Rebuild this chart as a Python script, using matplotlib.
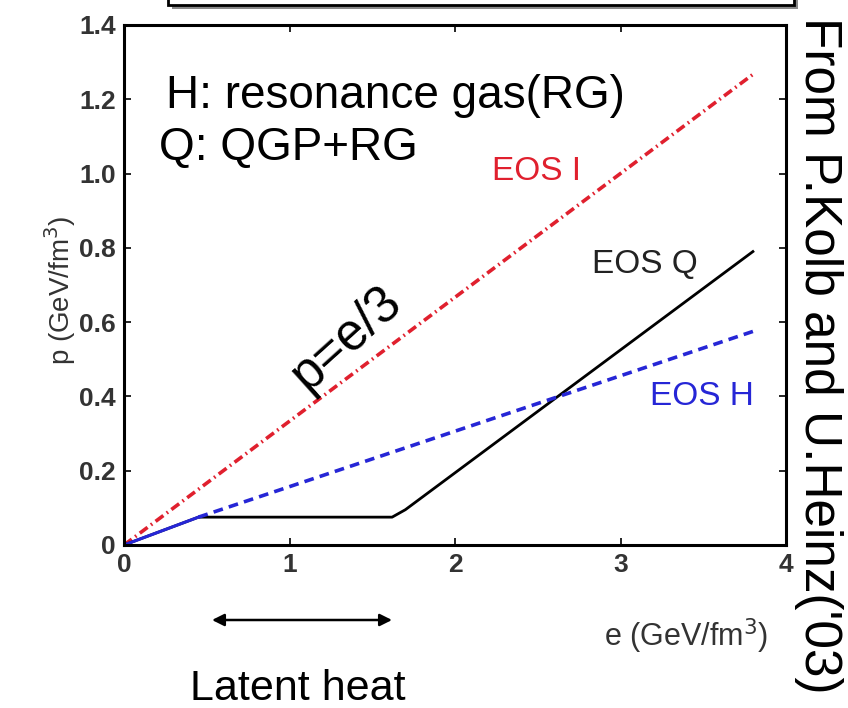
import matplotlib
matplotlib.use("Agg")
import matplotlib.pyplot as plt
from matplotlib.patches import Rectangle

plt.rcParams['font.family'] = ['Liberation Sans', 'DejaVu Sans']
plt.rcParams['lines.scale_dashes'] = False

# EOS curves (e in GeV/fm^3, p in GeV/fm^3)
e_I = [0.0, 3.8]
p_I = [0.0, 1.267]

e_Q = [0.0, 0.45, 1.62, 1.70, 3.8]
p_Q = [0.0, 0.075, 0.075, 0.095, 0.79]

e_H_low = [0.0, 0.45]
p_H_low = [0.0, 0.075]
e_H = [0.45, 3.8]
p_H = [0.075, 0.575]

x_ticks = [0, 1, 2, 3, 4]
y_ticks = [0, 0.2, 0.4, 0.6, 0.8, 1.0, 1.2, 1.4]
y_tick_labels = ['0', '0.2', '0.4', '0.6', '0.8', '1.0', '1.2', '1.4']

W, H = 848, 708
fig = plt.figure(figsize=(W / 100, H / 100), dpi=100)

# frame of the box cut off at the top of the slide
fig.patches.append(Rectangle((172 / W, 1 - 9 / H), (794 - 168) / W, 20 / H,
                             transform=fig.transFigure, facecolor='#8a8a8a',
                             edgecolor='none', zorder=0))
fig.patches.append(Rectangle((168 / W, 1 - 5 / H), (794 - 168) / W, 20 / H,
                             transform=fig.transFigure, facecolor='white',
                             edgecolor='black', linewidth=2, zorder=1))

ax = fig.add_axes([124 / W, 1 - 545 / H, (786 - 124) / W, (545 - 25) / H])

ax.plot(e_I, p_I, color='#e0202e', linewidth=2.6,
        linestyle=(0, (7, 3, 1.2, 3)))
ax.plot(e_Q, p_Q, color='black', linewidth=2.0)
ax.plot(e_H, p_H, color='#2626d6', linewidth=2.6, linestyle=(0, (7, 4.5)))
ax.plot(e_H_low, p_H_low, color='#2626d6', linewidth=2.2)

ax.set_xlim(0, 4)
ax.set_ylim(0, 1.4)
ax.set_xticks(x_ticks)
ax.set_xticklabels([str(t) for t in x_ticks])
ax.set_yticks(y_ticks)
ax.set_yticklabels(y_tick_labels)
ax.tick_params(direction='in', length=5, width=1.2, top=True, right=True,
               labelsize=19, labelcolor='#333333', pad=6)
for lab in ax.get_xticklabels() + ax.get_yticklabels():
    lab.set_fontweight('bold')
for s in ax.spines.values():
    s.set_linewidth(2.2)

fig.text(60 / W, 1 - 290 / H, 'p (GeV/fm$^3$)', fontsize=20,
         color='#333333', rotation=90, ha='center', va='center')
fig.text(686 / W, 1 - 636 / H, 'e (GeV/fm$^3$)', fontsize=22,
         color='#333333', ha='center', va='center')

# labels of the curves
ax.text(2.49, 1.005, 'EOS I', fontsize=24, color='#e0202e',
        ha='center', va='center')
ax.text(3.15, 0.755, 'EOS Q', fontsize=24, color='#222222',
        ha='center', va='center')
ax.text(3.49, 0.40, 'EOS H', fontsize=24, color='#2626d6',
        ha='center', va='center')

fig.text(166 / W, 1 - 96 / H, 'H: resonance gas(RG)', fontsize=33,
         ha='left', va='center')
fig.text(159 / W, 1 - 148 / H, 'Q: QGP+RG', fontsize=33,
         ha='left', va='center')
fig.text(347 / W, 1 - 338 / H, 'p=e/3', fontsize=37, rotation=42,
         ha='center', va='center')

# latent heat arrow
ax.annotate('', xy=(392 / W, 1 - 620 / H), xytext=(212 / W, 1 - 620 / H),
            xycoords='figure fraction', textcoords='figure fraction',
            arrowprops=dict(arrowstyle='<|-|>', color='black', lw=1.8,
                            mutation_scale=18, shrinkA=0, shrinkB=0))
fig.text(190 / W, 1 - 689 / H, 'Latent heat', fontsize=31,
         ha='left', va='center')

fig.text(818 / W, 1 - 355 / H, "From P.Kolb and U.Heinz('03)", fontsize=37,
         rotation=-90, ha='center', va='center')

fig.savefig('out.png', dpi=100)
